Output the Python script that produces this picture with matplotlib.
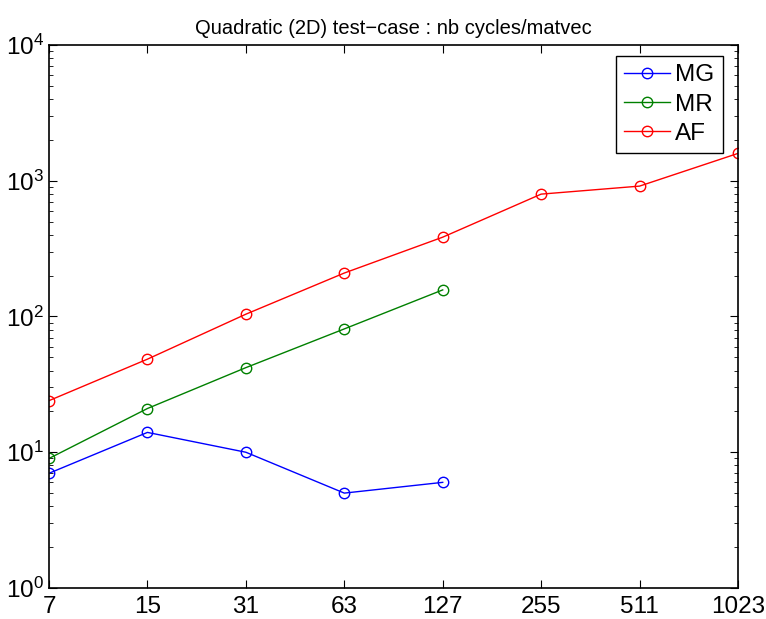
import numpy as np
import matplotlib.pyplot as plt

plt.rcParams['font.family'] = ['Liberation Sans', 'DejaVu Sans']

# Данные
sizes = ['7', '15', '31', '63', '127', '255', '511', '1023']
mg = [7, 14, 10, 5, 6]
mr = [9, 21, 42, 81, 157]
af = [24, 48.5, 104, 209, 384, 797, 913, 1590]

x = np.arange(len(sizes))

fig = plt.figure(figsize=(7.66, 6.19), dpi=100)
ax = fig.add_axes([0.064, 0.0501, 0.8994, 0.8772])

ax.plot(x[:len(mg)], mg, color=(0, 0, 1), marker='o', mfc='none', ms=7.5, lw=1, label='MG')
ax.plot(x[:len(mr)], mr, color=(0, 0.5, 0), marker='o', mfc='none', ms=7.5, lw=1, label='MR')
ax.plot(x[:len(af)], af, color=(1, 0, 0), marker='o', mfc='none', ms=7.5, lw=1, label='AF')

ax.set_yscale('log')
ax.set_ylim(1, 1e4)
ax.set_xlim(0, len(sizes) - 1)
ax.set_xticks(x)
ax.set_xticklabels(sizes)
ax.tick_params(which='both', direction='in', top=True, right=True, labelsize=17.5)
ax.tick_params(which='major', length=6)
ax.tick_params(which='minor', length=3)
ax.tick_params(axis='x', pad=6)
for s in ax.spines.values():
    s.set_linewidth(1.2)

ax.set_title('Quadratic (2D) test\u2212case : nb cycles/matvec', fontsize=14.5, pad=8)

leg = ax.legend(loc='upper right', bbox_to_anchor=(0.978, 0.980), fontsize=17.5,
                fancybox=False, framealpha=1, edgecolor='black', borderaxespad=0,
                handlelength=1.9, handletextpad=0.2, labelspacing=0.3, borderpad=0.35)
leg.get_frame().set_linewidth(1.0)

plt.savefig('out.png', dpi=100)
